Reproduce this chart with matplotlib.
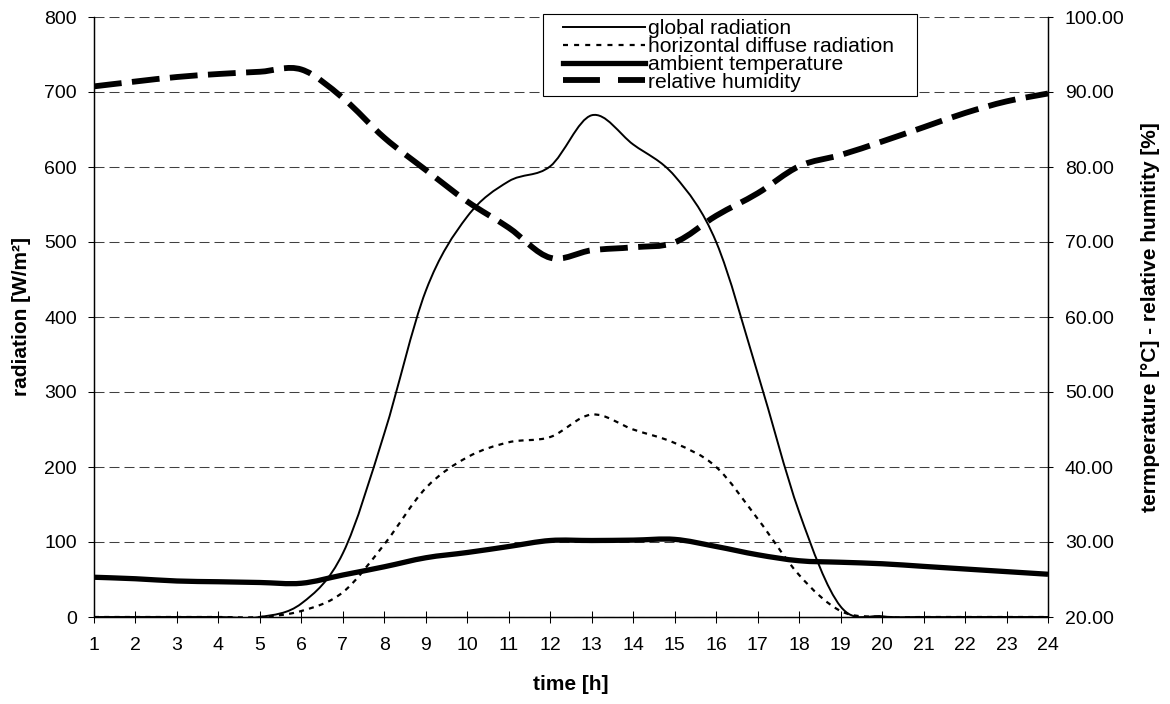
import numpy as np
import matplotlib
matplotlib.use("Agg")
import matplotlib.pyplot as plt
from matplotlib.path import Path
from matplotlib.patches import PathPatch, Rectangle
from matplotlib.lines import Line2D

plt.rcParams['font.family'] = ['Liberation Sans', 'DejaVu Sans']
plt.rcParams['lines.scale_dashes'] = False

# ---------------- data ----------------
hours = list(range(1, 25))
global_radiation = [0, 0, 0, 0, 0, 18, 85, 245, 435, 534, 581, 601,
                    669, 630, 588, 500, 325, 140, 14, 1, 0, 0, 0, 0]
diffuse_radiation = [0, 0, 0, 0, 0, 8, 33, 97, 172, 213, 233, 240,
                     270, 250, 232, 200, 131, 56, 8, 0, 0, 0, 0, 0]
ambient_temperature = [25.3, 25.1, 24.8, 24.7, 24.6, 24.5, 25.6, 26.7, 27.9, 28.6, 29.4, 30.2,
                       30.2, 30.25, 30.35, 29.4, 28.3, 27.5, 27.3, 27.1, 26.75, 26.4, 26.05, 25.7]
relative_humidity = [90.75, 91.4, 92.0, 92.4, 92.7, 93.0, 89.2, 83.9, 79.6, 75.4, 71.9, 67.9,
                     68.9, 69.3, 69.95, 73.5, 76.5, 80.1, 81.6, 83.4, 85.3, 87.2, 88.75, 89.8]
series_labels = ["global radiation", "horizontal diffuse radiation",
                 "ambient temperature", "relative humidity"]
left_ticks = list(range(0, 801, 100))
right_ticks = list(range(20, 101, 10))


def smooth_path(x, y):
    """Excel-like smoothed line: cubic Bezier segments through the data points."""
    x = np.asarray(x, float)
    y = np.asarray(y, float)
    n = len(x)
    verts = [(x[0], y[0])]
    codes = [Path.MOVETO]
    for i in range(n - 1):
        i0 = max(i - 1, 0)
        i2 = min(i + 2, n - 1)
        c1 = (x[i] + (x[i + 1] - x[i0]) / 6.0, y[i] + (y[i + 1] - y[i0]) / 6.0)
        c2 = (x[i + 1] - (x[i2] - x[i]) / 6.0, y[i + 1] - (y[i2] - y[i]) / 6.0)
        verts += [c1, c2, (x[i + 1], y[i + 1])]
        codes += [Path.CURVE4] * 3
    return Path(verts, codes)


W, H = 1170, 704
fig = plt.figure(figsize=(W / 100, H / 100), dpi=100)
L, R, T, B = 94, 1048, 17, 617
ax = fig.add_axes([L / W, 1 - B / H, (R - L) / W, (B - T) / H])
ax2 = ax.twinx()

styles = {
    "global": dict(color="black", lw=1.4, ls="-"),
    "diffuse": dict(color="black", lw=1.6, ls=(0, (3.6, 3.8))),
    "temp": dict(color="black", lw=3.8, ls="-"),
    "hum": dict(color="black", lw=4.2, ls=(0, (20, 7.5))),
}

for axis, xs, ys, key in [(ax, hours, global_radiation, "global"),
                          (ax, hours, diffuse_radiation, "diffuse"),
                          (ax2, hours, ambient_temperature, "temp"),
                          (ax2, hours, relative_humidity, "hum")]:
    st = styles[key]
    p = PathPatch(smooth_path(xs, ys), fill=False, edgecolor=st["color"],
                  lw=st["lw"], linestyle=st["ls"], capstyle="butt", joinstyle="round")
    axis.add_patch(p)

ax.set_xlim(1, 24)
ax.set_ylim(0, 800)
ax2.set_ylim(20, 100)
ax.set_xticks(hours)
ax.set_xticklabels([str(h) for h in hours])
ax.set_yticks(left_ticks)
ax.set_yticklabels([str(v) for v in left_ticks])
ax2.set_yticks(right_ticks)
ax2.set_yticklabels([f"{v:.2f}" for v in right_ticks])

ax.set_axisbelow(True)
ax.yaxis.grid(True, linestyle=(0, (7.2, 3.6)), color="#404040", lw=0.75)
ax.xaxis.grid(False)

for a in (ax, ax2):
    a.spines["top"].set_visible(False)
    for s in ("left", "right", "bottom"):
        a.spines[s].set_linewidth(0.9)
        a.spines[s].set_color("black")

ax.tick_params(axis="x", direction="inout", length=8.5, width=0.75, pad=10, labelsize=14)
ax.tick_params(axis="y", direction="out", length=4.3, width=0.75, pad=8, labelsize=14)
ax2.tick_params(axis="y", direction="out", length=3.6, width=0.75, pad=8.6, labelsize=14)

ax.set_xlabel("time [h]", fontsize=15, fontweight="bold", va="center")
ax.xaxis.set_label_coords(0.5, (B - 684) / (B - T))
ax.set_ylabel("radiation [W/m²]", fontsize=15, fontweight="bold", va="center")
ax.yaxis.set_label_coords((22 - L) / (R - L), 0.5)
ax2.set_ylabel("termperature [°C] - relative humitity [%]", fontsize=15,
               fontweight="bold", va="center", rotation=90)
ax2.yaxis.set_label_coords((1150 - L) / (R - L), 0.5)

# legend
handles = [
    Line2D([], [], color="black", lw=1.4, ls="-"),
    Line2D([], [], color="black", lw=1.6, ls=(0, (3.6, 4.4)), dash_capstyle="butt"),
    Line2D([], [], color="black", lw=3.8, ls="-"),
    Line2D([], [], color="black", lw=4.2, ls=(0, (26.6, 13)), dash_capstyle="butt"),
]
frame = Rectangle((543 / W, 1 - 96 / H), (917 - 543) / W, (96 - 14) / H,
                  transform=fig.transFigure, facecolor="white", edgecolor="black",
                  lw=0.8, zorder=5)
fig.add_artist(frame)
leg = fig.legend(handles, series_labels, loc="upper left",
                 bbox_to_anchor=(563 / W, 1 - 19 / H), frameon=False,
                 fontsize=15.2, handlelength=3.9, handletextpad=0.15,
                 labelspacing=-0.05, borderpad=0, borderaxespad=0)
leg.set_zorder(6)

fig.savefig("out.png", dpi=100)
